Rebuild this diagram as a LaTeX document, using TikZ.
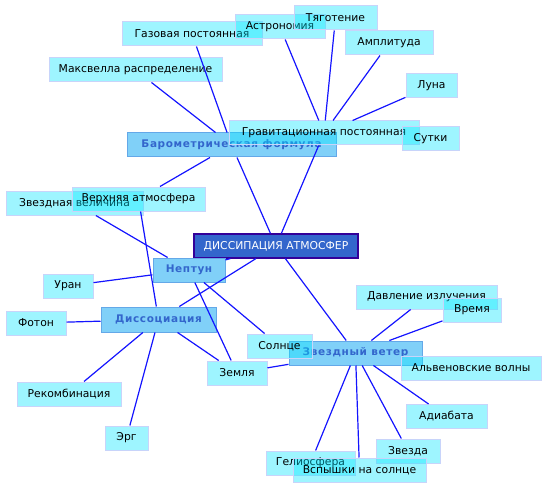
\documentclass[tikz,border=0pt]{standalone}
\usepackage{fontspec}
\setmainfont{DejaVu Sans}
\newfontfamily\boldsp{DejaVu Sans}[LetterSpace=6, BoldFont={DejaVu Sans Bold}]
\definecolor{lfill}{RGB}{0,230,255}
\definecolor{lborder}{RGB}{200,212,250}
\definecolor{sfill}{RGB}{43,177,243}
\definecolor{sborder}{RGB}{100,168,232}
\definecolor{stext}{RGB}{51,102,204}
\definecolor{mfill}{RGB}{51,102,204}
\definecolor{mborder}{RGB}{51,0,153}
\definecolor{edgec}{RGB}{20,20,255}
\tikzset{
 leaf/.style={draw=lborder, line width=1pt, fill=lfill, fill opacity=0.38, text opacity=1,
   minimum height=24pt, inner sep=0pt, font=\fontsize{10.8}{12}\selectfont, text=black},
 hub/.style={draw=sborder, line width=1pt, fill=sfill, fill opacity=0.6, text opacity=1,
   minimum height=24pt, inner sep=0pt, font=\boldsp\bfseries\fontsize{10.5}{12}\selectfont, text=stext},
 root/.style={draw=mborder, line width=1.2pt, fill=mfill, text=white,
   minimum height=24pt, inner sep=0pt, font=\fontsize{10.8}{12}\selectfont},
 link/.style={draw=edgec, line width=1.2pt}
}
\begin{document}
\begin{tikzpicture}[x=1pt,y=-1pt]
\useasboundingbox (0,0) rectangle (548,489);
% nodes
\node[hub, minimum width=209pt] (baro) at (231.5,145) {Барометрическая формула};
\node[leaf, minimum width=140pt] (gaz) at (192,34) {Газовая постоянная};
\node[leaf, minimum width=90pt] (astr) at (280,27) {Астрономия};
\node[leaf, minimum width=83pt] (tyag) at (335.5,18) {Тяготение};
\node[leaf, minimum width=173pt] (maxw) at (135.5,70) {Максвелла распределение};
\node[leaf, minimum width=88pt] (ampl) at (389,43) {Амплитуда};
\node[leaf, minimum width=51pt] (luna) at (431.5,86) {Луна};
\node[leaf, minimum width=190pt] (grav) at (324,133) {Гравитационная постоянная};
\node[leaf, minimum width=57pt] (sutki) at (430.5,139) {Сутки};
\node[leaf, minimum width=137pt] (zvvel) at (74.5,203) {Звездная величина};
\node[leaf, minimum width=133pt] (verh) at (138.5,199) {Верхняя атмосфера};
\node[root, minimum width=164pt] (diss) at (276,246) {ДИССИПАЦИЯ АТМОСФЕР};
\node[hub, minimum width=72pt] (nept) at (189,270) {Нептун};
\node[leaf, minimum width=50pt] (uran) at (68,286) {Уран};
\node[leaf, minimum width=60pt] (foton) at (36,323) {Фотон};
\node[hub, minimum width=115pt, minimum height=25pt] (dissoc) at (158.5,319.5) {Диссоциация};
\node[leaf, minimum width=141pt] (davl) at (426.5,297) {Давление излучения};
\node[leaf, minimum width=58pt] (vrem) at (472,310) {Время};
\node[hub, minimum width=133pt] (zvvet) at (355.5,353) {Звездный ветер};
\node[leaf, minimum width=65pt] (solnce) at (279.5,346) {Солнце};
\node[leaf, minimum width=140pt] (alfv) at (471,368) {Альвеновские волны};
\node[leaf, minimum width=60pt] (zemlya) at (237,373) {Земля};
\node[leaf, minimum width=104pt] (rekomb) at (69,394) {Рекомбинация};
\node[leaf, minimum width=43pt] (erg) at (126.5,438) {Эрг};
\node[leaf, minimum width=81pt] (adiab) at (446.5,416.5) {Адиабата};
\node[leaf, minimum width=64pt] (zvezda) at (408,451) {Звезда};
\node[leaf, minimum width=89pt] (gelio) at (310.5,463) {Гелиосфера};
\node[leaf, minimum width=133pt] (vspysh) at (359.5,470) {Вспышки на солнце};
% connectors
\draw[link] (gaz) -- (baro);
\draw[link] (maxw) -- (baro);
\draw[link] (baro) -- (verh);
\draw[link] (baro) -- (diss);
\draw[link] (astr) -- (grav);
\draw[link] (tyag) -- (grav);
\draw[link] (ampl) -- (grav);
\draw[link] (luna) -- (grav);
\draw[link] (grav) -- (diss);
\draw[link] (zvvel) -- (nept);
\draw[link] (verh) -- (dissoc);
\draw[link] (uran) -- (nept);
\draw[link] (nept) -- (diss);
\draw[link] (dissoc) -- (diss);
\draw[link] (nept) -- (zemlya);
\draw[link] (nept) -- (solnce);
\draw[link] (diss) -- (zvvet);
\draw[link] (foton) -- (dissoc);
\draw[link] (dissoc) -- (rekomb);
\draw[link] (dissoc) -- (erg);
\draw[link] (dissoc) -- (zemlya);
\draw[link] (zemlya) -- (zvvet);
\draw[link] (zvvet) -- (davl);
\draw[link] (zvvet) -- (vrem);
\draw[link] (zvvet) -- (adiab);
\draw[link] (zvvet) -- (zvezda);
\draw[link] (zvvet) -- (vspysh);
\draw[link] (zvvet) -- (gelio);
\end{tikzpicture}
\end{document}
